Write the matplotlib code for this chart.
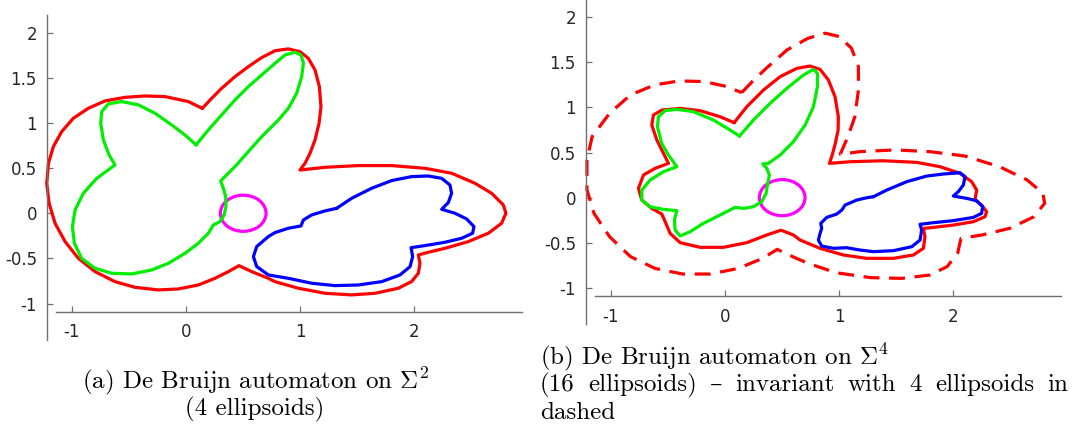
import matplotlib
matplotlib.use('Agg')
import matplotlib.pyplot as plt
from matplotlib.patches import Ellipse

plt.rcParams['axes.unicode_minus'] = False
plt.rcParams['mathtext.fontset'] = 'cm'

# ---------- (a) 4 ellipsoids ----------
red_a_x = [0.142, 0.224, 0.311, 0.428, 0.545, 0.662, 0.779, 0.895, 0.997, 1.070, 1.129, 1.167, 1.181, 1.164,
           1.129, 1.085, 1.041, 0.997,
           1.216, 1.508, 1.800, 2.092, 2.326, 2.530, 2.676, 2.778, 2.801, 2.763, 2.647, 2.471, 2.267, 2.121, 2.034,
           2.048, 2.034, 1.975, 1.859, 1.654, 1.450, 1.216, 0.983, 0.778, 0.720, 0.574, 0.463,
           0.370, 0.253, 0.107, -0.068, -0.243, -0.447, -0.623, -0.798, -0.944, -1.060, -1.148, -1.200, -1.221,
           -1.206, -1.163, -1.090, -0.988, -0.856, -0.710, -0.535, -0.360, -0.185, 0.019, 0.142]
red_a_y = [1.162, 1.273, 1.384, 1.513, 1.624, 1.724, 1.800, 1.820, 1.790, 1.716, 1.587, 1.402, 1.181, 0.996,
           0.812, 0.664, 0.553, 0.479,
           0.509, 0.528, 0.528, 0.498, 0.443, 0.332, 0.221, 0.092, 0.0, -0.111, -0.221, -0.314, -0.388, -0.432, -0.461,
           -0.554, -0.664, -0.756, -0.830, -0.886, -0.904, -0.886, -0.830, -0.757, -0.720, -0.646, -0.580,
           -0.646, -0.720, -0.794, -0.838, -0.849, -0.820, -0.757, -0.646, -0.499, -0.314, -0.111, 0.110, 0.332,
           0.554, 0.738, 0.904, 1.052, 1.163, 1.244, 1.284, 1.299, 1.292, 1.237, 1.162]

green_a_x = [0.087, 0.195, 0.311, 0.428, 0.545, 0.662, 0.779, 0.866, 0.954, 1.006, 1.027, 1.012, 0.968, 0.895,
             0.808, 0.662, 0.545, 0.428, 0.302,
             0.326, 0.346, 0.349, 0.332, 0.297, 0.239,
             0.195, 0.107, -0.010, -0.156, -0.302, -0.477, -0.652, -0.798, -0.915, -0.979, -0.996, -0.973,
             -0.900, -0.783, -0.623,
             -0.675, -0.725, -0.748, -0.739, -0.681, -0.564, -0.418, -0.272, -0.126, -0.010, 0.087]
green_a_y = [0.757, 0.923, 1.089, 1.255, 1.403, 1.532, 1.661, 1.753, 1.783, 1.753, 1.661, 1.513, 1.328, 1.162,
             1.033, 0.849, 0.683, 0.517, 0.358,
             0.277, 0.185, 0.074, -0.019, -0.092, -0.129,
             -0.221, -0.332, -0.443, -0.554, -0.628, -0.672, -0.664, -0.609, -0.499, -0.332, -0.148, 0.037,
             0.221, 0.387, 0.535,
             0.646, 0.812, 0.996, 1.126, 1.211, 1.237, 1.200, 1.107, 0.978, 0.867, 0.757]

blue_a_x = [1.318, 1.450, 1.625, 1.800, 1.975, 2.121, 2.238, 2.311, 2.325, 2.296, 2.238,
            2.355, 2.457, 2.521, 2.509, 2.413, 2.267, 2.092, 1.970,
            1.984, 1.961, 1.873, 1.713, 1.508, 1.304, 1.100, 0.895, 0.720, 0.618, 0.589, 0.618, 0.720,
            0.778, 0.895, 1.006, 1.027, 1.100, 1.216, 1.318]
blue_a_y = [0.055, 0.166, 0.277, 0.362, 0.406, 0.413, 0.387, 0.313, 0.221, 0.118, 0.044,
            0.0, -0.063, -0.148, -0.221, -0.277, -0.321, -0.358, -0.381,
            -0.480, -0.591, -0.683, -0.757, -0.794, -0.801, -0.775, -0.720, -0.683, -0.590, -0.480, -0.369, -0.258,
            -0.214, -0.166, -0.140, -0.074, -0.018, 0.026, 0.055]

# ---------- (b) 16 ellipsoids + dashed invariant ----------
dash_b_x = [0.146, 0.238, 0.360, 0.543, 0.726, 0.878, 1.0, 1.107, 1.168, 1.168, 1.137, 1.076, 1.009,
            1.183, 1.488, 1.793, 2.098, 2.402, 2.646, 2.784, 2.799, 2.707, 2.494, 2.250, 2.067,
            2.037, 1.945, 1.793, 1.549, 1.274, 0.970, 0.726, 0.558, 0.457,
            0.329, 0.116, -0.128, -0.372, -0.616, -0.829, -1.012, -1.149, -1.210, -1.210, -1.165, -1.012,
            -0.829, -0.616, -0.402, -0.189, -0.006, 0.146]
dash_b_y = [1.165, 1.287, 1.434, 1.638, 1.767, 1.823, 1.786, 1.656, 1.453, 1.194, 0.898, 0.677, 0.481,
            0.510, 0.529, 0.510, 0.462, 0.344, 0.196, 0.048, -0.063, -0.211, -0.340, -0.414, -0.451,
            -0.617, -0.765, -0.858, -0.895, -0.887, -0.832, -0.728, -0.636, -0.573,
            -0.673, -0.784, -0.847, -0.847, -0.784, -0.654, -0.433, -0.174, 0.085, 0.418, 0.677, 0.935,
            1.139, 1.250, 1.294, 1.287, 1.238, 1.165]

red_b_x = [0.079, 0.190, 0.336, 0.482, 0.628, 0.744, 0.832, 0.905, 0.963, 0.992, 0.990, 0.965, 0.940, 0.914,
           1.095, 1.386, 1.678, 1.883, 2.058, 2.160, 2.204, 2.189, 2.248, 2.291, 2.277, 2.175, 1.999, 1.824, 1.737,
           1.751, 1.737, 1.649, 1.474, 1.241, 1.036, 0.832, 0.657, 0.598, 0.490,
           0.365, 0.190, -0.015, -0.219, -0.394, -0.482, -0.525, -0.555, -0.642, -0.730, -0.759, -0.715, -0.613,
           -0.496, -0.540, -0.598, -0.642, -0.628, -0.555, -0.394, -0.219, -0.044, 0.079]
red_b_y = [0.831, 1.008, 1.193, 1.341, 1.433, 1.459, 1.422, 1.304, 1.119, 0.897, 0.750, 0.600, 0.480, 0.380,
           0.398, 0.409, 0.391, 0.343, 0.269, 0.177, 0.084, -0.027, -0.082, -0.156, -0.211, -0.267, -0.304, -0.330, -0.341,
           -0.433, -0.562, -0.636, -0.673, -0.673, -0.636, -0.562, -0.470, -0.414, -0.361,
           -0.414, -0.499, -0.551, -0.551, -0.499, -0.396, -0.266, -0.182, -0.119, -0.027, 0.103, 0.251, 0.325,
           0.380, 0.491, 0.639, 0.804, 0.916, 0.971, 0.990, 0.964, 0.897, 0.831]

green_b_x = [0.126, 0.248, 0.394, 0.540, 0.686, 0.774, 0.809, 0.809, 0.774, 0.701, 0.598, 0.482, 0.379, 0.330,
             0.365, 0.388, 0.371, 0.359, 0.321, 0.248, 0.161, 0.088, -0.015, -0.102, -0.190, -0.306, -0.394,
             -0.438, -0.444, -0.423, -0.540, -0.657, -0.730, -0.730, -0.657, -0.540, -0.423, -0.496, -0.555,
             -0.593, -0.584, -0.525, -0.423, -0.277, -0.102, 0.044, 0.126]
green_b_y = [0.683, 0.860, 1.045, 1.211, 1.359, 1.422, 1.378, 1.230, 1.008, 0.805, 0.620, 0.472, 0.380, 0.373,
             0.325, 0.251, 0.140, 0.047, -0.045, -0.100, -0.119, -0.108, -0.174, -0.230, -0.285, -0.377, -0.425,
             -0.359, -0.248, -0.145, -0.130, -0.101, -0.027, 0.084, 0.195, 0.288, 0.343, 0.472, 0.601,
             0.786, 0.897, 0.964, 0.979, 0.953, 0.860, 0.749, 0.683]

blue_b_x = [1.299, 1.416, 1.591, 1.766, 1.912, 2.058, 2.102, 2.087, 2.043, 1.999, 2.116, 2.204, 2.256, 2.247,
            2.175, 1.999, 1.824, 1.708, 1.722, 1.708, 1.635, 1.474, 1.299, 1.182, 1.065, 0.949, 0.846, 0.817,
            0.832, 0.846, 0.838, 0.890, 0.978, 1.022, 1.051, 1.153, 1.241, 1.299]
blue_b_y = [0.010, 0.084, 0.177, 0.239, 0.262, 0.276, 0.232, 0.140, 0.066, 0.018, -0.008, -0.034, -0.101, -0.174,
            -0.219, -0.255, -0.278, -0.296, -0.359, -0.470, -0.544, -0.588, -0.599, -0.581, -0.555, -0.562, -0.536, -0.470,
            -0.396, -0.341, -0.285, -0.219, -0.182, -0.138, -0.082, -0.027, -0.001, 0.010]

circle_center = (0.5, 0.0)
circle_radius = 0.2

xticks = [-1, 0, 1, 2]
yticks = [-1, -0.5, 0, 0.5, 1, 1.5, 2]
yticklabels = ['-1', '-0.5', '0', '0.5', '1', '1.5', '2']


def style_axes(ax):
    ax.set_xlim(-1.216, 2.94)
    ax.set_ylim(-1.40, 2.20)
    ax.set_xticks(xticks)
    ax.set_xticklabels([str(t) for t in xticks])
    ax.set_yticks(yticks)
    ax.set_yticklabels(yticklabels)
    ax.spines['top'].set_visible(False)
    ax.spines['right'].set_visible(False)
    ax.spines['bottom'].set_position(('data', -1.095))
    ax.spines['bottom'].set_bounds(-1.14, 2.94)
    for s in ['left', 'bottom']:
        ax.spines[s].set_color('#707070')
        ax.spines[s].set_linewidth(1.0)
    ax.tick_params(direction='in', length=4, width=0.9, color='#707070',
                   labelsize=12, labelcolor='#262626')
    ax.tick_params(axis='x', pad=8)
    ax.tick_params(axis='y', pad=7.5)
    ax.patch.set_visible(False)


fig = plt.figure(figsize=(10.75, 4.41), dpi=100)

lw = 2.3
kw = dict(lw=lw, clip_on=False, solid_joinstyle='round', solid_capstyle='round')

# 子图 (a)
ax1 = fig.add_axes([0.0440, 0.2297, 0.4414, 0.7372])
style_axes(ax1)
ax1.plot(red_a_x, red_a_y, color='#ff0000', **kw)
ax1.plot(green_a_x, green_a_y, color='#00ee00', **kw)
ax1.plot(blue_a_x, blue_a_y, color='#0000ff', **kw)
ax1.add_patch(Ellipse(circle_center, 2 * circle_radius, 2 * circle_radius,
                      fill=False, edgecolor='#ff00ff', lw=lw))

# 子图 (b)
ax2 = fig.add_axes([0.5454, 0.2655, 0.4413, 0.7363])
style_axes(ax2)
ax2.plot(dash_b_x, dash_b_y, color='#ff0000', lw=lw, dashes=(5, 3), clip_on=False)
ax2.plot(red_b_x, red_b_y, color='#ff0000', **kw)
ax2.plot(green_b_x, green_b_y, color='#00ee00', **kw)
ax2.plot(blue_b_x, blue_b_y, color='#0000ff', **kw)
ax2.add_patch(Ellipse(circle_center, 2 * circle_radius, 2 * circle_radius,
                      fill=False, edgecolor='#ff00ff', lw=lw))

# 图注
cap_font = ['cmr10', 'DejaVu Serif']
fs = 18
W, H = 1075, 441
fig.text(255 / W, 1 - 381 / H, r'(a) De Bruijn automaton on $\Sigma^2$',
         ha='center', va='center', fontsize=fs, family=cap_font)
fig.text(255 / W, 1 - 409 / H, '(4 ellipsoids)',
         ha='center', va='center', fontsize=fs, family=cap_font)
fig.text(540 / W, 1 - 357 / H, r'(b) De Bruijn automaton on $\Sigma^4$',
         ha='left', va='center', fontsize=fs, family=cap_font)
fig.text(540 / W, 1 - 413 / H, 'dashed',
         ha='left', va='center', fontsize=fs, family=cap_font)

# 两端对齐的第二行
words = ['(16', 'ellipsoids)', '\u2013', 'invariant', 'with', '4', 'ellipsoids', 'in']
renderer = fig.canvas.get_renderer()
objs = [fig.text(0, 1 - 385 / H, w, ha='left', va='center', fontsize=fs, family=cap_font) for w in words]
widths = [o.get_window_extent(renderer).width for o in objs]
x_left, x_right = 540, 1068
gap = (x_right - x_left - sum(widths)) / (len(words) - 1)
x = x_left
for o, w in zip(objs, widths):
    o.set_x(x / W)
    x += w + gap

plt.savefig('out.png', dpi=100)
